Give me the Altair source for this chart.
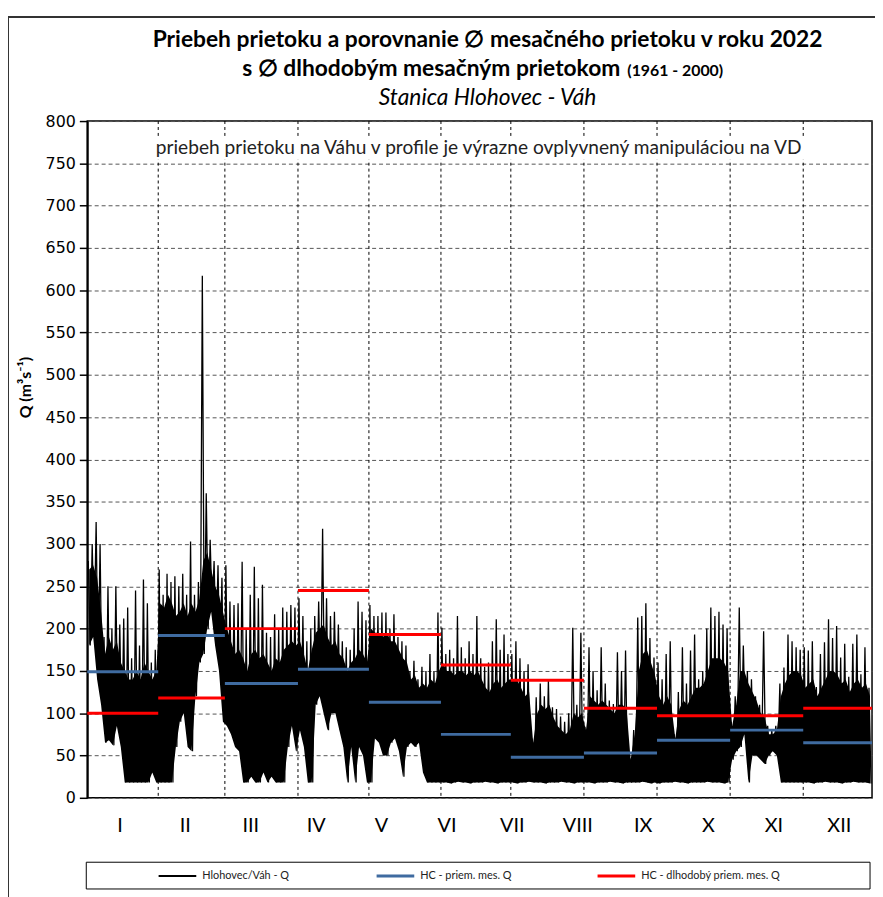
import altair as alt
import pandas as pd

# ---------------- data ----------------
months = ["I", "II", "III", "IV", "V", "VI", "VII", "VIII", "IX", "X", "XI", "XII"]

# boundaries (day of year) of the averaging intervals / vertical gridlines
edges = [0, 33, 64, 98, 131, 164.5, 197, 231, 265, 299, 333, 365]

avg_2022 = [149, 192, 135, 152, 113, 75, 48, 53, 68, 80, 65]          # HC - priem. mes. Q
avg_longterm = [100, 118, 200, 245, 193, 157, 139, 106, 97, 97, 106]  # HC - dlhodobý priem. mes. Q

# flow, Hlohovec/Váh - Q: local maxima (spikes) per interval
q_high = [
    [280, 300, 326, 300, 190, 250, 200, 250, 205, 212, 225, 165, 245, 180, 258, 230, 160, 175],
    [270, 240, 265, 255, 262, 250, 265, 240, 303, 240, 255, 617, 360, 305, 280, 275, 260],
    [275, 232, 228, 230, 279, 200, 240, 273, 236, 252, 195, 190, 217, 200, 225, 220, 228, 225],
    [236, 215, 185, 200, 215, 232, 318, 236, 215, 220, 205, 185, 178, 175, 200, 232, 220, 210],
    [228, 215, 215, 219, 219, 200, 217, 190, 185, 180, 150, 162, 140, 155, 150, 170, 150, 219],
    [201, 170, 175, 165, 215, 178, 165, 185, 170, 215, 165, 155, 160, 185, 211, 175, 193, 170],
    [170, 185, 165, 150, 158, 70, 119, 135, 120, 139, 107, 105, 96, 90, 100, 201, 110, 195],
    [84, 178, 150, 127, 178, 135, 115, 111, 172, 150, 174, 47, 80, 213, 215, 230, 189, 166],
    [160, 140, 170, 185, 75, 125, 178, 135, 174, 193, 140, 150, 200, 225, 215, 220, 205, 200],
    [90, 120, 225, 180, 150, 140, 120, 110, 197, 85, 80, 85, 135, 154, 193, 185, 178, 175],
    [178, 174, 185, 131, 170, 184, 211, 189, 203, 166, 182, 143, 182, 193, 146, 178, 130],
]
# upper edge of the densely filled part of the flow record
q_core = [
    [270, 275, 260, 220, 170, 190, 175, 185, 160, 150, 140, 140, 150, 140, 160, 150, 140, 150],
    [230, 225, 240, 230, 215, 220, 230, 215, 230, 220, 235, 280, 290, 270, 250, 240, 220],
    [200, 185, 170, 175, 165, 150, 170, 175, 165, 170, 160, 150, 165, 160, 175, 180, 185, 180],
    [185, 170, 150, 175, 195, 200, 205, 190, 180, 185, 170, 165, 150, 160, 165, 175, 170, 160],
    [200, 195, 195, 190, 195, 185, 185, 175, 165, 160, 140, 145, 130, 135, 130, 140, 135, 150],
    [160, 150, 150, 145, 150, 150, 145, 150, 145, 150, 140, 130, 125, 135, 140, 130, 135, 140],
    [140, 140, 130, 120, 125, 65, 100, 110, 105, 110, 95, 85, 80, 75, 80, 100, 95, 100],
    [80, 120, 115, 110, 115, 110, 105, 100, 110, 110, 105, 45, 75, 150, 170, 175, 160, 145],
    [120, 110, 120, 110, 70, 105, 115, 110, 120, 130, 130, 135, 150, 165, 165, 165, 160, 150],
    [85, 110, 150, 150, 135, 125, 115, 100, 95, 75, 75, 80, 120, 135, 145, 150, 150, 145],
    [130, 135, 140, 120, 130, 140, 150, 150, 145, 135, 140, 125, 135, 140, 130, 135, 120],
]
# local minima
q_low = [
    [180, 190, 140, 110, 65, 68, 62, 85, 60, 18, 18, 18, 18, 18, 18, 18, 30, 18],
    [18, 18, 18, 18, 60, 90, 100, 60, 55, 120, 160, 170, 200, 220, 180, 150, 90],
    [85, 75, 60, 55, 18, 18, 25, 18, 18, 30, 18, 25, 18, 18, 18, 60, 85, 55],
    [80, 60, 18, 18, 110, 120, 100, 80, 100, 100, 80, 60, 18, 60, 18, 60, 50, 18],
    [18, 70, 65, 50, 50, 65, 70, 55, 25, 60, 65, 60, 65, 30, 18, 18, 18, 18],
    [18, 18, 17, 18, 19, 18, 18, 17, 18, 18, 18, 19, 18, 18, 17, 18, 18, 18],
    [18, 17, 18, 18, 19, 18, 18, 18, 17, 18, 18, 18, 19, 18, 18, 17, 18, 18],
    [18, 18, 17, 18, 18, 18, 19, 18, 18, 17, 18, 18, 18, 18, 19, 18, 17, 18],
    [17, 18, 18, 18, 19, 18, 18, 17, 18, 18, 18, 18, 19, 18, 18, 18, 17, 18],
    [45, 55, 60, 75, 18, 50, 50, 45, 40, 50, 55, 50, 18, 18, 18, 18, 18, 18],
    [18, 18, 17, 18, 18, 19, 18, 18, 18, 17, 18, 18, 19, 18, 18, 18, 17],
]

title_1 = "Priebeh prietoku a porovnanie \u2205 mesačného prietoku v roku 2022"
title_2 = "s \u2205 dlhodobým  mesačným prietokom"
title_2b = "(1961 - 2000)"
title_3 = "Stanica Hlohovec - Váh"
note = "priebeh prietoku na Váhu v profile je výrazne ovplyvnený manipuláciou na VD"
y_title = "Q (m\u00b3s\u207b\u00b9)"
legend_labels = ["Hlohovec/Váh - Q", "HC - priem. mes. Q", "HC - dlhodobý priem. mes. Q"]

BLUE = "#3F6BA0"
RED = "#FF0000"
FONT = "Lato"

# ---------------- tables ----------------
rows = []
band = []
order = 0
for i, (hs, cs, ls) in enumerate(zip(q_high, q_core, q_low)):
    a, b = edges[i], edges[i + 1]
    n = len(hs)
    for k in range(n):
        rows.append({"day": a + (k + 0.25) / n * (b - a), "q": hs[k], "o": order}); order += 1
        rows.append({"day": a + (k + 0.75) / n * (b - a), "q": ls[k], "o": order}); order += 1
        band.append({"day": a + (k + 0.5) / n * (b - a), "lo": ls[k], "core": cs[k]})
flow = pd.DataFrame(rows)
env = pd.DataFrame(band)

seg = pd.DataFrame({
    "start": edges[:-1], "end": edges[1:],
    "avg": avg_2022, "lt": avg_longterm,
})
grid_v = pd.DataFrame({"day": edges[1:-1]})
mlab = pd.DataFrame({"m": months, "pos": [(i + 0.5) * 365 / 12 for i in range(12)]})
one = pd.DataFrame({"t": [0]})

xs = alt.Scale(domain=[0, 365], nice=False, zero=False)
ys = alt.Scale(domain=[0, 800], nice=False)

base_y_axis = alt.Axis(
    values=list(range(0, 801, 50)), grid=True, gridDash=[4, 3], gridColor="#555555",
    gridWidth=1, labelFont="DejaVu Sans", labelFontSize=16, labelColor="black",
    tickSize=8, tickColor="black", tickWidth=1.5, domainColor="black", domainWidth=2,
    labelPadding=4, title=None,
)

vgrid = alt.Chart(grid_v).mark_rule(color="black", strokeDash=[3, 3], strokeWidth=1).encode(
    x=alt.X("day:Q", scale=xs, axis=None)
)

area = alt.Chart(env).mark_area(color="black", clip=True, opacity=1).encode(
    x=alt.X("day:Q", scale=xs, axis=None),
    y=alt.Y("lo:Q", scale=ys, axis=base_y_axis),
    y2="core:Q",
)

line = alt.Chart(flow).mark_line(color="black", strokeWidth=1.3, clip=True).encode(
    x=alt.X("day:Q", scale=xs, axis=None),
    y=alt.Y("q:Q", scale=ys),
    order="o:Q",
)

blue = alt.Chart(seg).mark_rule(color=BLUE, strokeWidth=3).encode(
    x=alt.X("start:Q", scale=xs, axis=None), x2="end:Q",
    y=alt.Y("avg:Q", scale=ys),
)
red = alt.Chart(seg).mark_rule(color=RED, strokeWidth=3).encode(
    x=alt.X("start:Q", scale=xs, axis=None), x2="end:Q",
    y=alt.Y("lt:Q", scale=ys),
)

months_txt = alt.Chart(mlab).mark_text(font=FONT, fontSize=20, color="black", baseline="middle").encode(
    x=alt.X("pos:Q", scale=xs, axis=None), y=alt.value(711), text="m:N"
)


def txt(s, x, y, **kw):
    return alt.Chart(one).mark_text(text=s, font=kw.pop("font", FONT), **kw).encode(
        x=alt.value(x), y=alt.value(y)
    )


t1 = txt(title_1, 404, -82, fontSize=23, fontWeight="bold", color="black", baseline="middle")
t2 = txt(title_2, 538, -52, fontSize=23, fontWeight="bold", color="black", baseline="middle", align="right")
t2b = txt(title_2b, 545, -50, fontSize=16, fontWeight="bold", color="black", baseline="middle", align="left")
t3 = txt(title_3, 404, -23, fontSize=23, fontStyle="italic", color="black", baseline="middle")
note_bg = alt.Chart(one).mark_rect(fill="white").encode(
    x=alt.value(64), x2=alt.value(726), y=alt.value(15), y2=alt.value(39)
)
tn = txt(note, 395, 27, fontSize=19.3, color="#222222", baseline="middle")
ty = txt(y_title, -62, 269, fontSize=16, fontWeight="bold", color="black", baseline="middle", angle=270)

# legend box and entries
leg_box = alt.Chart(one).mark_rect(fill="white", stroke="black", strokeWidth=1).encode(
    x=alt.value(-1), x2=alt.value(790), y=alt.value(748), y2=alt.value(775)
)
leg_items = []
for (x0, col, lab) in [(72, "black", legend_labels[0]), (292, BLUE, legend_labels[1]), (515, RED, legend_labels[2])]:
    leg_items.append(
        alt.Chart(one).mark_rule(color=col, strokeWidth=3 if col != "black" else 2).encode(
            x=alt.value(x0), x2=alt.value(x0 + 38), y=alt.value(762)
        )
    )
    leg_items.append(txt(lab, x0 + 44, 762, fontSize=11, color="#222222", baseline="middle", align="left"))

# outer chart-area frame (left and top edges)
frame_l = alt.Chart(one).mark_rule(color="#333333", strokeWidth=2).encode(
    x=alt.value(-80), y=alt.value(-105), y2=alt.value(790)
)
frame_t = alt.Chart(one).mark_rule(color="#333333", strokeWidth=2).encode(
    x=alt.value(-80), x2=alt.value(800), y=alt.value(-105)
)

chart = alt.layer(
    vgrid, area, line, blue, red, months_txt, t1, t2, t2b, t3, note_bg, tn, ty,
    leg_box, *leg_items, frame_l, frame_t,
).properties(
    width=792, height=683,
    autosize=alt.AutoSizeParams(type="none"),
    padding={"left": 80, "top": 110, "right": 3, "bottom": 96},
    background="white",
).configure_view(stroke="black", strokeWidth=1.5)

chart.save("out.html", embed_options={"renderer": "svg", "actions": False})
